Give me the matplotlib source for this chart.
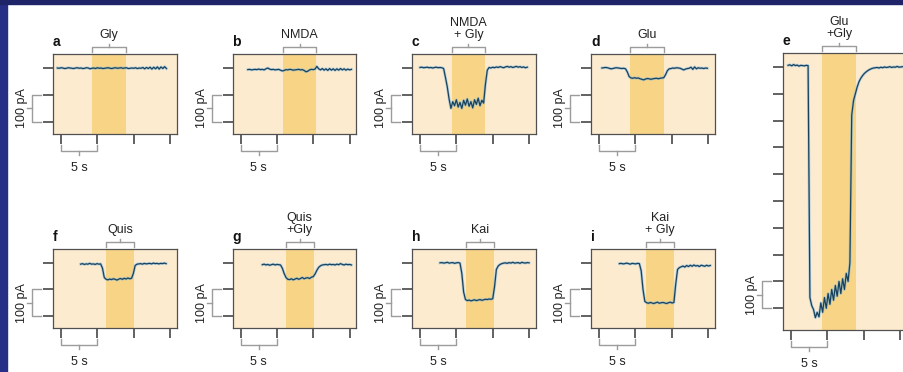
import matplotlib.pyplot as plt
import matplotlib.transforms as mtransforms
from matplotlib.patches import Rectangle
import numpy as np

plt.rcParams['font.family'] = ['Liberation Sans', 'DejaVu Sans']

# panels and the drug applied in each
panel_ids = ['a', 'b', 'c', 'd', 'e', 'f', 'g', 'h', 'i']
drug_labels = ['Gly', 'NMDA', 'NMDA\n+ Gly', 'Glu', 'Glu\n+Gly',
               'Quis', 'Quis\n+Gly', 'Kai', 'Kai\n+ Gly']

# application window (s)
band_start = [4.25, 5.9, 4.4, 4.3, 4.3, 6.2, 6.2, 6.3, 6.4]
band_end = [8.9, 10.4, 8.9, 8.9, 9.0, 10.1, 10.1, 10.2, 10.3]

# current traces (pA), sampled every 0.25 s from trace_start
trace_start = [-0.5, 1.0, 0.0, 0.4, -0.4, 2.7, 3.0, 2.75, 2.8]
trace_step = 0.25

trace_a = [0, -1, 1, 0, -2, -1, 1, 0, -1, -2,
           0, 1, -1, 0, -2, -1, 1, 0, -3, -1,
           0, -2, 1, -1, 0, -2, -1, 0, 1, -1,
           -2, 0, 1, -1, 0, 1, -1, 0, 1, -2,
           -1, 0, -1, 1, -2, 0, -1, 2, -3, 2,
           -2, 3, -4, 3, -3, 4, -4, 4, -2, 5, -2]
trace_b = [-6, -5, -7, -6, -5, -6, -4, -6, -5, -7,
           -3, 0, -4, -6, -5, -7, -6, -5, -8, -11,
           -9, -6, -7, -5, -6, -8, -7, -6, -5, -7,
           -6, -9, -14, -12, -7, -5, -6, -4, 6, -3,
           -7, -2, -8, -3, -9, -2, -8, -3, -9, -3,
           -8, -2, -7, -3, -8, -4, -7, -5]
trace_c = [2, 3, 1, 2, 3, 1, 2, 0, 2, 3, 1, 2, 1, -2,
           -35, -70, -115, -150, -125, -140, -118, -145, -128, -150, -120,
           -138, -115, -142, -125, -148, -118, -135, -112, -140, -120, -130,
           -60, -8,
           2, 0, 3, 1, 4, 2, 5, 3, 1, 4, 6, 3, 5, 2, 4, 6, 3, 5, 2, 4, 1, 3]
trace_d = [0, 1, 2, 1, -1, -3, -2, 0, 1, 0, -1, -2, -1, -3,
           -15, -32, -37,
           -38, -36, -38, -37, -40, -42, -44, -41, -39, -40, -42, -40, -39,
           -38, -40, -38, -37, -36,
           -25, -10, -3,
           -2, 0, -1, 1, 0, -1, -4, -7, -4, -2, -1, 3, -5, 4, -3, 1, -1, 0,
           -2, 0, -1]
trace_e = [6, 8, 4, 9, 5, 7, 3, 6, 5, 4, 6, 5,
           -860, -890, -905, -935, -915, -932, -880, -915, -860, -900, -845,
           -885, -830, -870, -815, -855, -800, -845, -790, -830, -770, -800,
           -730,
           -180, -125, -100, -75, -55, -42, -32, -24, -18, -13, -9, -6, -4,
           -3, -2, -4, -1, -3, 0, -2, -1, 1, -2, 0, -1, 2, -1, 0, 1, -1]
trace_f = [-5, -3, -6, -4, -5, -2, -5, -4, -6, -3, -5, -4,
           -20, -55, -62,
           -64, -61, -63, -60, -62, -65, -61, -59, -62, -58, -61, -57, -60, -58,
           -40, -10, -5,
           -4, -3, -5, -2, -4, -3, -2, -4, -1, -3, -2, -4, -2, -3, -1, -3]
trace_g = [-7, -5, -8, -6, -9, -7, -5, -8, -6, -7, -8,
           -20, -40, -55, -62,
           -63, -60, -64, -61, -58, -62, -59, -55, -60, -57, -56, -59, -54,
           -52, -42, -28, -17, -11, -8,
           -7, -6, -8, -5, -7, -6, -8, -5, -7, -3, -6, -8, -5, -7, -6, -8]
trace_h = [0, 1, -1, 0, 2, -1, 0, 1, -2, 0, 1, -1,
           -40, -110, -138,
           -142, -140, -143, -141, -139, -142, -140, -138, -141, -139, -137,
           -138, -136, -137, -135,
           -90, -25, -12, -6, -3,
           -1, 0, -2, 1, -1, 2, -1, 0, 1, -2, 2, 0, -1, 1, 0]
trace_i = [-3, -2, -4, -3, -1, -3, -5, -2, -3, -4, -2, -3,
           -30, -100, -145,
           -150, -152, -149, -151, -153, -150, -148, -152, -150, -149, -151,
           -153, -150, -148, -151, -149,
           -80, -25, -18,
           -15, -12, -16, -10, -14, -9, -13, -8, -12, -10, -14, -9, -11, -13,
           -9, -12, -10]
traces = [trace_a, trace_b, trace_c, trace_d, trace_e,
          trace_f, trace_g, trace_h, trace_i]

x_ticks = [0, 5, 10, 15]
y_ticks_small = [0, -100, -200]
y_ticks_tall = [0, -100, -200, -300, -400, -500, -600, -700, -800, -900]
scale_pa = (-100, -200)      # 100 pA scale bar, small panels
scale_pa_tall = (-800, -900)  # 100 pA scale bar, panel e

W, H = 904, 372
fig = plt.figure(figsize=(W / 100, H / 100), dpi=100)
fig.patch.set_facecolor('white')
# dark slide border
fig.patches.append(Rectangle((0, 0), 7 / W, 1, transform=fig.transFigure,
                             color='#262e86', zorder=0))
fig.patches.append(Rectangle((0, 1 - 4 / H), 1, 4 / H, transform=fig.transFigure,
                             color='#1f2468', zorder=0))

col_left = [53, 232.5, 412, 591]
ax_w = 124
rows = [(54, 134), (249, 328)]
positions = []
for r, (top, bot) in enumerate(rows):
    for c in range(4):
        positions.append((col_left[c], top, bot))
positions.insert(4, (783, 53, 330))

light = '#FDEBD0'
band = '#F8D486'
gray = '#9c9c9c'
dark = '#474747'

for k, pid in enumerate(panel_ids):
    x0, top, bot = positions[k]
    hpx = bot - top
    ax = fig.add_axes([x0 / W, 1 - bot / H, ax_w / W, hpx / H])
    ax.set_facecolor(light)
    tall = pid == 'e'
    ax.set_xlim(-1.1, 15.95)
    if tall:
        ax.set_ylim(-981, 52)
        yt = y_ticks_tall
        sb = scale_pa_tall
    else:
        ax.set_ylim(-245, 52)
        yt = y_ticks_small
        sb = scale_pa
    ax.set_xticks(x_ticks)
    ax.set_yticks(yt)
    ax.tick_params(direction='out', length=7.5, width=1.2, color=dark,
                   labelbottom=False, labelleft=False)
    for s in ax.spines.values():
        s.set_color('#505050')
        s.set_linewidth(0.9)

    ax.axvspan(band_start[k], band_end[k], color=band, lw=0, zorder=0)

    vals = np.array(traces[k], dtype=float)
    t = trace_start[k] + trace_step * np.arange(len(vals))
    ax.plot(t, vals, color='#7ab6dc', lw=2.0, alpha=0.55, zorder=2)
    ax.plot(t, vals, color='#17425f', lw=0.9, zorder=3)

    xt = mtransforms.blended_transform_factory(ax.transData, ax.transAxes)
    yt_tr = mtransforms.blended_transform_factory(ax.transAxes, ax.transData)

    def fy(px):
        return 1 + px / hpx

    def fb(px):
        return -px / hpx

    def fx(px):
        return -px / ax_w

    # drug bracket and label
    b0, b1 = band_start[k], band_end[k]
    bm = (b0 + b1) / 2
    ax.plot([b0, b0, b1, b1], [fy(2), fy(7), fy(7), fy(2)], color=gray,
            lw=1.0, transform=xt, clip_on=False)
    ax.plot([bm, bm], [fy(7), fy(10)], color=gray, lw=1.0, transform=xt,
            clip_on=False)
    ax.text(bm, fy(13), drug_labels[k], transform=xt, ha='center',
            va='bottom', fontsize=9, linespacing=1.0, color='#222222')

    # panel letter
    ax.text(0, fy(8), pid, transform=ax.transAxes, ha='left', va='baseline',
            fontsize=10, fontweight='bold', color='#111111')

    # 5 s scale bar
    ax.plot([0, 0, 5, 5], [fb(11), fb(17), fb(17), fb(11)], color=gray,
            lw=1.0, transform=xt, clip_on=False)
    ax.plot([2.5, 2.5], [fb(17), fb(21)], color=gray, lw=1.0, transform=xt,
            clip_on=False)
    ax.text(2.5, fb(34), '5 s', transform=xt, ha='center', va='center',
            fontsize=9, color='#222222')

    # 100 pA scale bar
    ax.plot([fx(12), fx(21), fx(21), fx(12)], [sb[0], sb[0], sb[1], sb[1]],
            color=gray, lw=1.0, transform=yt_tr, clip_on=False)
    ym = (sb[0] + sb[1]) / 2
    ax.plot([fx(21), fx(26)], [ym, ym], color=gray, lw=1.0, transform=yt_tr,
            clip_on=False)
    ax.text(fx(31), ym, '100 pA', transform=yt_tr, rotation=90, ha='center',
            va='center', fontsize=9, color='#222222')

fig.savefig('out.png', dpi=100, facecolor=fig.get_facecolor())
